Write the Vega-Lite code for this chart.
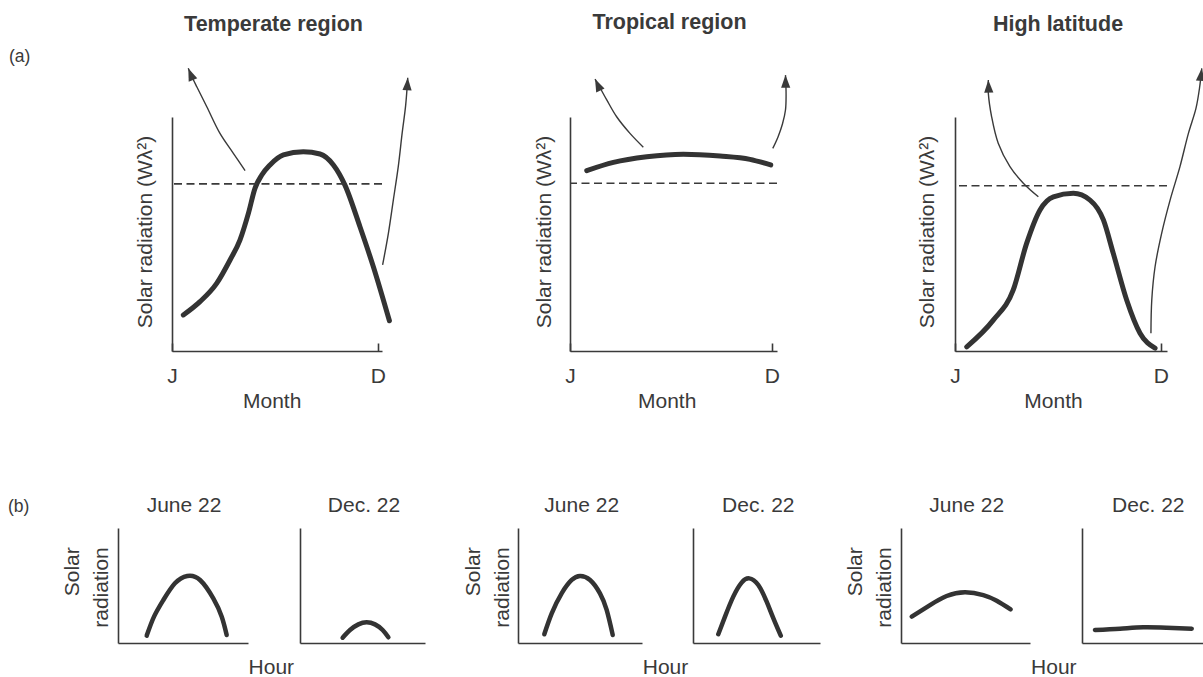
{
  "$schema": "https://vega.github.io/schema/vega-lite/v6.json",
  "autosize": "none",
  "padding": {"left": 0, "top": 117, "right": 1203, "bottom": 560},
  "background": "white",
  "bounds": "flush",
  "spacing": 411,
  "config": {
    "view": {"stroke": null},
    "font": "Liberation Sans",
    "axis": {
      "labelFont": "Liberation Sans", "titleFont": "Liberation Sans",
      "labelFontSize": 21, "titleFontSize": 21,
      "labelColor": "#3a3a3a", "titleColor": "#3a3a3a", "titleFontWeight": "normal",
      "domainColor": "#3a3a3a", "domainWidth": 1.6,
      "grid": false, "ticks": false, "labels": false
    },
    "title": {"font": "Liberation Sans", "fontSize": 21, "fontWeight": "normal", "color": "#3a3a3a", "frame": "group", "anchor": "middle", "baseline": "middle", "offset": 12}
  },
  "datasets": {
    "curves": [
      {"panel": "Temperate", "x": 0.055, "y": 15.4}, {"panel": "Temperate", "x": 0.136, "y": 21.1}, {"panel": "Temperate", "x": 0.217, "y": 28.9},
      {"panel": "Temperate", "x": 0.282, "y": 38.9}, {"panel": "Temperate", "x": 0.33, "y": 47.4}, {"panel": "Temperate", "x": 0.371, "y": 58.8},
      {"panel": "Temperate", "x": 0.403, "y": 69.5}, {"panel": "Temperate", "x": 0.436, "y": 75.2}, {"panel": "Temperate", "x": 0.476, "y": 79.5},
      {"panel": "Temperate", "x": 0.541, "y": 83.8}, {"panel": "Temperate", "x": 0.638, "y": 85.2},
      {"panel": "Temperate", "x": 0.719, "y": 84.2}, {"panel": "Temperate", "x": 0.784, "y": 79.5}, {"panel": "Temperate", "x": 0.84, "y": 70.9},
      {"panel": "Temperate", "x": 0.913, "y": 53.1}, {"panel": "Temperate", "x": 0.978, "y": 36.0}, {"panel": "Temperate", "x": 1.056, "y": 12.9},
      {"panel": "Tropical", "x": 0.083, "y": 77.1}, {"panel": "Tropical", "x": 0.215, "y": 80.6}, {"panel": "Tropical", "x": 0.38, "y": 83.0},
      {"panel": "Tropical", "x": 0.561, "y": 84.1}, {"panel": "Tropical", "x": 0.743, "y": 83.3}, {"panel": "Tropical", "x": 0.891, "y": 81.9},
      {"panel": "Tropical", "x": 0.994, "y": 79.5},
      {"panel": "High", "x": 0.057, "y": 1.8}, {"panel": "High", "x": 0.186, "y": 13.2}, {"panel": "High", "x": 0.283, "y": 26.1},
      {"panel": "High", "x": 0.348, "y": 46.0}, {"panel": "High", "x": 0.413, "y": 60.3}, {"panel": "High", "x": 0.478, "y": 65.9},
      {"panel": "High", "x": 0.575, "y": 67.4}, {"panel": "High", "x": 0.656, "y": 64.5}, {"panel": "High", "x": 0.721, "y": 56.0},
      {"panel": "High", "x": 0.769, "y": 41.7}, {"panel": "High", "x": 0.834, "y": 21.8}, {"panel": "High", "x": 0.899, "y": 7.6},
      {"panel": "High", "x": 0.972, "y": 1.2},
      {"panel": "b1", "x": 0.221, "y": 6.4}, {"panel": "b1", "x": 0.277, "y": 22.9}, {"panel": "b1", "x": 0.349, "y": 37.4},
      {"panel": "b1", "x": 0.438, "y": 51.9}, {"panel": "b1", "x": 0.533, "y": 58.3}, {"panel": "b1", "x": 0.631, "y": 54.8},
      {"panel": "b1", "x": 0.733, "y": 38.8}, {"panel": "b1", "x": 0.798, "y": 22.9}, {"panel": "b1", "x": 0.836, "y": 7.0},
      {"panel": "b2", "x": 0.341, "y": 4.6}, {"panel": "b2", "x": 0.4, "y": 11.3}, {"panel": "b2", "x": 0.467, "y": 16.2},
      {"panel": "b2", "x": 0.533, "y": 18.0}, {"panel": "b2", "x": 0.6, "y": 16.2}, {"panel": "b2", "x": 0.661, "y": 11.3},
      {"panel": "b2", "x": 0.707, "y": 5.0},
      {"panel": "b3", "x": 0.212, "y": 7.6}, {"panel": "b3", "x": 0.272, "y": 25.8}, {"panel": "b3", "x": 0.352, "y": 43.2},
      {"panel": "b3", "x": 0.433, "y": 54.8}, {"panel": "b3", "x": 0.5, "y": 58.3}, {"panel": "b3", "x": 0.581, "y": 54.8},
      {"panel": "b3", "x": 0.661, "y": 43.2}, {"panel": "b3", "x": 0.715, "y": 28.7}, {"panel": "b3", "x": 0.764, "y": 7.0},
      {"panel": "b4", "x": 0.199, "y": 7.6}, {"panel": "b4", "x": 0.252, "y": 22.9}, {"panel": "b4", "x": 0.317, "y": 40.3},
      {"panel": "b4", "x": 0.383, "y": 52.5}, {"panel": "b4", "x": 0.443, "y": 56.2}, {"panel": "b4", "x": 0.514, "y": 50.4},
      {"panel": "b4", "x": 0.58, "y": 35.9}, {"panel": "b4", "x": 0.633, "y": 21.4}, {"panel": "b4", "x": 0.691, "y": 6.4},
      {"panel": "b5", "x": 0.083, "y": 22.9}, {"panel": "b5", "x": 0.225, "y": 33.0}, {"panel": "b5", "x": 0.354, "y": 40.9},
      {"panel": "b5", "x": 0.496, "y": 44.1}, {"panel": "b5", "x": 0.638, "y": 41.7}, {"panel": "b5", "x": 0.742, "y": 36.8},
      {"panel": "b5", "x": 0.85, "y": 29.3},
      {"panel": "b6", "x": 0.107, "y": 11.3}, {"panel": "b6", "x": 0.314, "y": 12.4}, {"panel": "b6", "x": 0.507, "y": 13.7},
      {"panel": "b6", "x": 0.7, "y": 13.3}, {"panel": "b6", "x": 0.907, "y": 12.4}
    ],
    "levels": [
      {"panel": "Temperate", "y": 71.4}, {"panel": "Tropical", "y": 71.7}, {"panel": "High", "y": 70.6}
    ],
    "arrows": [
      {"panel": "Temperate", "arrow": "left", "i": 0, "x": 0.355, "y": 77.1}, {"panel": "Temperate", "arrow": "left", "i": 1, "x": 0.298, "y": 84.5},
      {"panel": "Temperate", "arrow": "left", "i": 2, "x": 0.233, "y": 93.0}, {"panel": "Temperate", "arrow": "left", "i": 3, "x": 0.169, "y": 104.4},
      {"panel": "Temperate", "arrow": "left", "i": 4, "x": 0.121, "y": 112.8}, {"panel": "Temperate", "arrow": "left", "i": 5, "x": 0.095, "y": 117.5},
      {"panel": "Temperate", "arrow": "left", "i": 6, "x": 0.079, "y": 120.8},
      {"panel": "Temperate", "arrow": "right", "i": 0, "x": 1.023, "y": 36.8}, {"panel": "Temperate", "arrow": "right", "i": 1, "x": 1.051, "y": 50.3},
      {"panel": "Temperate", "arrow": "right", "i": 2, "x": 1.075, "y": 64.5}, {"panel": "Temperate", "arrow": "right", "i": 3, "x": 1.099, "y": 78.8},
      {"panel": "Temperate", "arrow": "right", "i": 4, "x": 1.118, "y": 93.2}, {"panel": "Temperate", "arrow": "right", "i": 5, "x": 1.135, "y": 105.1},
      {"panel": "Temperate", "arrow": "right", "i": 6, "x": 1.145, "y": 116.8},
      {"panel": "Tropical", "arrow": "left", "i": 0, "x": 0.363, "y": 87.1}, {"panel": "Tropical", "arrow": "left", "i": 1, "x": 0.297, "y": 93.0},
      {"panel": "Tropical", "arrow": "left", "i": 2, "x": 0.231, "y": 100.1}, {"panel": "Tropical", "arrow": "left", "i": 3, "x": 0.182, "y": 107.3},
      {"panel": "Tropical", "arrow": "left", "i": 4, "x": 0.149, "y": 112.4}, {"panel": "Tropical", "arrow": "left", "i": 5, "x": 0.124, "y": 116.2},
      {"panel": "Tropical", "arrow": "right", "i": 0, "x": 1.004, "y": 86.6}, {"panel": "Tropical", "arrow": "right", "i": 1, "x": 1.03, "y": 91.5},
      {"panel": "Tropical", "arrow": "right", "i": 2, "x": 1.052, "y": 97.0}, {"panel": "Tropical", "arrow": "right", "i": 3, "x": 1.067, "y": 103.0},
      {"panel": "Tropical", "arrow": "right", "i": 4, "x": 1.07, "y": 109.4}, {"panel": "Tropical", "arrow": "right", "i": 5, "x": 1.067, "y": 117.9},
      {"panel": "High", "arrow": "left", "i": 0, "x": 0.405, "y": 65.9}, {"panel": "High", "arrow": "left", "i": 1, "x": 0.332, "y": 71.7},
      {"panel": "High", "arrow": "left", "i": 2, "x": 0.267, "y": 78.8}, {"panel": "High", "arrow": "left", "i": 3, "x": 0.21, "y": 88.8},
      {"panel": "High", "arrow": "left", "i": 4, "x": 0.178, "y": 100.1}, {"panel": "High", "arrow": "left", "i": 5, "x": 0.162, "y": 110.1},
      {"panel": "High", "arrow": "left", "i": 6, "x": 0.162, "y": 115.8},
      {"panel": "High", "arrow": "right", "i": 0, "x": 0.952, "y": 7.6}, {"panel": "High", "arrow": "right", "i": 1, "x": 0.956, "y": 21.8},
      {"panel": "High", "arrow": "right", "i": 2, "x": 0.972, "y": 36.0}, {"panel": "High", "arrow": "right", "i": 3, "x": 1.004, "y": 50.3},
      {"panel": "High", "arrow": "right", "i": 4, "x": 1.045, "y": 64.5}, {"panel": "High", "arrow": "right", "i": 5, "x": 1.093, "y": 78.8},
      {"panel": "High", "arrow": "right", "i": 6, "x": 1.134, "y": 93.0}, {"panel": "High", "arrow": "right", "i": 7, "x": 1.171, "y": 103.8},
      {"panel": "High", "arrow": "right", "i": 8, "x": 1.188, "y": 112.4}, {"panel": "High", "arrow": "right", "i": 9, "x": 1.199, "y": 120.8}
    ]
  },
  "vconcat": [
    {
      "bounds": "flush",
      "spacing": 0,
      "hconcat": [
        {"width": 172, "height": 1, "data": {"values": []}, "mark": "point",
         "title": {"text": "(a)", "anchor": "start", "fontSize": 17.5, "offset": 52, "dx": 9}},
        {
          "width": 210, "height": 234,
          "resolve": {"axis": {"x": "independent", "y": "independent"}},
          "layer": [
            {"data": {"name": "curves"}, "transform": [{"filter": "datum.panel === 'Temperate'"}],
             "mark": {"type": "line", "interpolate": "monotone", "strokeWidth": 5, "color": "#333333", "clip": false, "strokeCap": "round"},
             "encoding": {
               "x": {"field": "x", "type": "quantitative", "scale": {"domain": [0, 1.02], "nice": false, "zero": false},
                     "axis": {"orient": "bottom", "values": [0, 1], "labels": true, "labelFlush": false, "labelOverlap": false, "labelExpr": "datum.value === 0 ? 'J' : 'D'", "labelPadding": 22.3, "ticks": true, "tickSize": -8, "tickWidth": 1.6, "tickColor": "#3a3a3a", "title": "Month", "titleX": 99.7, "titleY": 50, "titleAlign": "center", "titleBaseline": "middle", "titleAngle": 0}},
               "y": {"field": "y", "type": "quantitative", "scale": {"domain": [0, 100], "nice": false, "zero": false},
                     "axis": {"orient": "left", "title": "Solar radiation (Wλ²)", "titleX": -26.4, "titleY": 114.5, "titleAngle": 270, "titleAlign": "center", "titleBaseline": "middle"}}
             }},
            {"data": {"name": "levels"}, "transform": [{"filter": "datum.panel === 'Temperate'"}],
             "mark": {"type": "rule", "strokeDash": [8, 4.5], "strokeWidth": 1.6, "color": "#3a3a3a"},
             "encoding": {"y": {"field": "y", "type": "quantitative", "scale": {"domain": [0, 100], "nice": false, "zero": false}, "axis": null}}},
            {"data": {"name": "arrows"}, "transform": [{"filter": "datum.panel === 'Temperate'"}],
             "mark": {"type": "line", "interpolate": "catmull-rom", "strokeWidth": 1.4, "color": "#3a3a3a", "clip": false},
             "encoding": {
               "x": {"field": "x", "type": "quantitative", "scale": {"domain": [0, 1.02], "nice": false, "zero": false},
                     "axis": {"orient": "top", "domain": false, "title": "Temperate region", "titleFontWeight": "bold", "titleFontSize": 21.5, "titleX": 101, "titleY": -92.8, "titleAlign": "center", "titleBaseline": "middle", "titleAngle": 0}},
               "y": {"field": "y", "type": "quantitative", "scale": {"domain": [0, 100], "nice": false, "zero": false}, "axis": null},
               "detail": {"field": "arrow"},
               "order": {"field": "i", "type": "quantitative"}
             }},
            {"data": {"name": "arrows"}, "transform": [{"joinaggregate": [{"op": "max", "field": "i", "as": "imax"}], "groupby": ["panel", "arrow"]}, {"filter": "datum.panel === 'Temperate' && datum.arrow === 'left' && datum.i === datum.imax"}],
             "mark": {"type": "point", "shape": "M0,0L0.42,1.15L-0.42,1.15Z", "filled": true, "size": 480, "angle": 338, "color": "#3a3a3a", "opacity": 1, "strokeWidth": 0, "clip": false},
             "encoding": {"x": {"field": "x", "type": "quantitative", "scale": {"domain": [0, 1.02], "nice": false, "zero": false}, "axis": null},
                          "y": {"field": "y", "type": "quantitative", "scale": {"domain": [0, 100], "nice": false, "zero": false}, "axis": null}}},
            {"data": {"name": "arrows"}, "transform": [{"joinaggregate": [{"op": "max", "field": "i", "as": "imax"}], "groupby": ["panel", "arrow"]}, {"filter": "datum.panel === 'Temperate' && datum.arrow === 'right' && datum.i === datum.imax"}],
             "mark": {"type": "point", "shape": "M0,0L0.42,1.15L-0.42,1.15Z", "filled": true, "size": 480, "angle": 3, "color": "#3a3a3a", "opacity": 1, "strokeWidth": 0, "clip": false},
             "encoding": {"x": {"field": "x", "type": "quantitative", "scale": {"domain": [0, 1.02], "nice": false, "zero": false}, "axis": null},
                          "y": {"field": "y", "type": "quantitative", "scale": {"domain": [0, 100], "nice": false, "zero": false}, "axis": null}}}
          ]
        },
        {"width": 188, "height": 1, "data": {"values": []}, "mark": "point"},
        {
          "width": 207, "height": 234,
          "resolve": {"axis": {"x": "independent", "y": "independent"}},
          "layer": [
            {"data": {"name": "curves"}, "transform": [{"filter": "datum.panel === 'Tropical'"}],
             "mark": {"type": "line", "interpolate": "monotone", "strokeWidth": 5, "color": "#333333", "clip": false, "strokeCap": "round"},
             "encoding": {
               "x": {"field": "x", "type": "quantitative", "scale": {"domain": [0, 1.025], "nice": false, "zero": false},
                     "axis": {"orient": "bottom", "values": [0, 1], "labels": true, "labelFlush": false, "labelOverlap": false, "labelExpr": "datum.value === 0 ? 'J' : 'D'", "labelPadding": 22.3, "ticks": true, "tickSize": -8, "tickWidth": 1.6, "tickColor": "#3a3a3a", "title": "Month", "titleX": 96.7, "titleY": 50, "titleAlign": "center", "titleBaseline": "middle", "titleAngle": 0}},
               "y": {"field": "y", "type": "quantitative", "scale": {"domain": [0, 100], "nice": false, "zero": false},
                     "axis": {"orient": "left", "title": "Solar radiation (Wλ²)", "titleX": -25.8, "titleY": 114.5, "titleAngle": 270, "titleAlign": "center", "titleBaseline": "middle"}}
             }},
            {"data": {"name": "levels"}, "transform": [{"filter": "datum.panel === 'Tropical'"}],
             "mark": {"type": "rule", "strokeDash": [8, 4.5], "strokeWidth": 1.6, "color": "#3a3a3a"},
             "encoding": {"y": {"field": "y", "type": "quantitative", "scale": {"domain": [0, 100], "nice": false, "zero": false}, "axis": null}}},
            {"data": {"name": "arrows"}, "transform": [{"filter": "datum.panel === 'Tropical'"}],
             "mark": {"type": "line", "interpolate": "catmull-rom", "strokeWidth": 1.4, "color": "#3a3a3a", "clip": false},
             "encoding": {
               "x": {"field": "x", "type": "quantitative", "scale": {"domain": [0, 1.025], "nice": false, "zero": false},
                     "axis": {"orient": "top", "domain": false, "title": "Tropical region", "titleFontWeight": "bold", "titleFontSize": 21.5, "titleX": 99, "titleY": -94.5, "titleAlign": "center", "titleBaseline": "middle", "titleAngle": 0}},
               "y": {"field": "y", "type": "quantitative", "scale": {"domain": [0, 100], "nice": false, "zero": false}, "axis": null},
               "detail": {"field": "arrow"},
               "order": {"field": "i", "type": "quantitative"}
             }},
            {"data": {"name": "arrows"}, "transform": [{"joinaggregate": [{"op": "max", "field": "i", "as": "imax"}], "groupby": ["panel", "arrow"]}, {"filter": "datum.panel === 'Tropical' && datum.arrow === 'left' && datum.i === datum.imax"}],
             "mark": {"type": "point", "shape": "M0,0L0.42,1.15L-0.42,1.15Z", "filled": true, "size": 480, "angle": 335, "color": "#3a3a3a", "opacity": 1, "strokeWidth": 0, "clip": false},
             "encoding": {"x": {"field": "x", "type": "quantitative", "scale": {"domain": [0, 1.025], "nice": false, "zero": false}, "axis": null},
                          "y": {"field": "y", "type": "quantitative", "scale": {"domain": [0, 100], "nice": false, "zero": false}, "axis": null}}},
            {"data": {"name": "arrows"}, "transform": [{"joinaggregate": [{"op": "max", "field": "i", "as": "imax"}], "groupby": ["panel", "arrow"]}, {"filter": "datum.panel === 'Tropical' && datum.arrow === 'right' && datum.i === datum.imax"}],
             "mark": {"type": "point", "shape": "M0,0L0.42,1.15L-0.42,1.15Z", "filled": true, "size": 480, "angle": 359, "color": "#3a3a3a", "opacity": 1, "strokeWidth": 0, "clip": false},
             "encoding": {"x": {"field": "x", "type": "quantitative", "scale": {"domain": [0, 1.025], "nice": false, "zero": false}, "axis": null},
                          "y": {"field": "y", "type": "quantitative", "scale": {"domain": [0, 100], "nice": false, "zero": false}, "axis": null}}}
          ]
        },
        {"width": 178, "height": 1, "data": {"values": []}, "mark": "point"},
        {
          "width": 212, "height": 234,
          "resolve": {"axis": {"x": "independent", "y": "independent"}},
          "layer": [
            {"data": {"name": "curves"}, "transform": [{"filter": "datum.panel === 'High'"}],
             "mark": {"type": "line", "interpolate": "monotone", "strokeWidth": 5, "color": "#333333", "clip": false, "strokeCap": "round"},
             "encoding": {
               "x": {"field": "x", "type": "quantitative", "scale": {"domain": [0, 1.03], "nice": false, "zero": false},
                     "axis": {"orient": "bottom", "values": [0, 1], "labels": true, "labelFlush": false, "labelOverlap": false, "labelExpr": "datum.value === 0 ? 'J' : 'D'", "labelPadding": 22.3, "ticks": true, "tickSize": -8, "tickWidth": 1.6, "tickColor": "#3a3a3a", "title": "Month", "titleX": 98, "titleY": 50, "titleAlign": "center", "titleBaseline": "middle", "titleAngle": 0}},
               "y": {"field": "y", "type": "quantitative", "scale": {"domain": [0, 100], "nice": false, "zero": false},
                     "axis": {"orient": "left", "title": "Solar radiation (Wλ²)", "titleX": -27.4, "titleY": 114.5, "titleAngle": 270, "titleAlign": "center", "titleBaseline": "middle"}}
             }},
            {"data": {"name": "levels"}, "transform": [{"filter": "datum.panel === 'High'"}],
             "mark": {"type": "rule", "strokeDash": [8, 4.5], "strokeWidth": 1.6, "color": "#3a3a3a"},
             "encoding": {"y": {"field": "y", "type": "quantitative", "scale": {"domain": [0, 100], "nice": false, "zero": false}, "axis": null}}},
            {"data": {"name": "arrows"}, "transform": [{"filter": "datum.panel === 'High'"}],
             "mark": {"type": "line", "interpolate": "catmull-rom", "strokeWidth": 1.4, "color": "#3a3a3a", "clip": false},
             "encoding": {
               "x": {"field": "x", "type": "quantitative", "scale": {"domain": [0, 1.03], "nice": false, "zero": false},
                     "axis": {"orient": "top", "domain": false, "title": "High latitude", "titleFontWeight": "bold", "titleFontSize": 21.5, "titleX": 102.5, "titleY": -92.5, "titleAlign": "center", "titleBaseline": "middle", "titleAngle": 0}},
               "y": {"field": "y", "type": "quantitative", "scale": {"domain": [0, 100], "nice": false, "zero": false}, "axis": null},
               "detail": {"field": "arrow"},
               "order": {"field": "i", "type": "quantitative"}
             }},
            {"data": {"name": "arrows"}, "transform": [{"joinaggregate": [{"op": "max", "field": "i", "as": "imax"}], "groupby": ["panel", "arrow"]}, {"filter": "datum.panel === 'High' && datum.arrow === 'left' && datum.i === datum.imax"}],
             "mark": {"type": "point", "shape": "M0,0L0.42,1.15L-0.42,1.15Z", "filled": true, "size": 480, "angle": 358, "color": "#3a3a3a", "opacity": 1, "strokeWidth": 0, "clip": false},
             "encoding": {"x": {"field": "x", "type": "quantitative", "scale": {"domain": [0, 1.03], "nice": false, "zero": false}, "axis": null},
                          "y": {"field": "y", "type": "quantitative", "scale": {"domain": [0, 100], "nice": false, "zero": false}, "axis": null}}},
            {"data": {"name": "arrows"}, "transform": [{"joinaggregate": [{"op": "max", "field": "i", "as": "imax"}], "groupby": ["panel", "arrow"]}, {"filter": "datum.panel === 'High' && datum.arrow === 'right' && datum.i === datum.imax"}],
             "mark": {"type": "point", "shape": "M0,0L0.42,1.15L-0.42,1.15Z", "filled": true, "size": 480, "angle": 6, "color": "#3a3a3a", "opacity": 1, "strokeWidth": 0, "clip": false},
             "encoding": {"x": {"field": "x", "type": "quantitative", "scale": {"domain": [0, 1.03], "nice": false, "zero": false}, "axis": null},
                          "y": {"field": "y", "type": "quantitative", "scale": {"domain": [0, 100], "nice": false, "zero": false}, "axis": null}}}
          ]
        }
      ]
    },
    {
      "bounds": "flush",
      "spacing": 0,
      "hconcat": [
        {"width": 118, "height": 1, "data": {"values": []}, "mark": "point",
         "title": {"text": "(b)", "anchor": "start", "fontSize": 17.5, "offset": 12.4, "dx": 8}},
        {"width": 130, "height": 115, "title": {"text": "June 22", "dx": 1},
         "data": {"name": "curves"}, "transform": [{"filter": "datum.panel === 'b1'"}],
         "mark": {"type": "line", "interpolate": "natural", "strokeWidth": 4.5, "color": "#333333", "clip": false, "strokeCap": "round"},
         "encoding": {
           "x": {"field": "x", "type": "quantitative", "scale": {"domain": [0, 1], "nice": false, "zero": false},
                 "axis": {"title": "Hour", "titleX": 152.8, "titleY": 24.5, "titleAlign": "center", "titleBaseline": "middle", "titleAngle": 0}},
           "y": {"field": "y", "type": "quantitative", "scale": {"domain": [0, 100], "nice": false, "zero": false},
                 "axis": {"title": ["Solar", "radiation"], "titleX": -57, "titleY": 18.7, "titleAngle": 270, "titleAlign": "right", "titleBaseline": "top", "titleLineHeight": 29}}
         }},
        {"width": 52, "height": 1, "data": {"values": []}, "mark": "point"},
        {"width": 125, "height": 115, "title": {"text": "Dec. 22", "dx": 1.5},
         "data": {"name": "curves"}, "transform": [{"filter": "datum.panel === 'b2'"}],
         "mark": {"type": "line", "interpolate": "natural", "strokeWidth": 4.5, "color": "#333333", "clip": false, "strokeCap": "round"},
         "encoding": {
           "x": {"field": "x", "type": "quantitative", "scale": {"domain": [0, 1], "nice": false, "zero": false}, "axis": {"title": null}},
           "y": {"field": "y", "type": "quantitative", "scale": {"domain": [0, 100], "nice": false, "zero": false}, "axis": {"title": null}}
         }},
        {"width": 93, "height": 1, "data": {"values": []}, "mark": "point"},
        {"width": 124, "height": 115, "title": {"text": "June 22", "dx": 1.7},
         "data": {"name": "curves"}, "transform": [{"filter": "datum.panel === 'b3'"}],
         "mark": {"type": "line", "interpolate": "natural", "strokeWidth": 4.5, "color": "#333333", "clip": false, "strokeCap": "round"},
         "encoding": {
           "x": {"field": "x", "type": "quantitative", "scale": {"domain": [0, 1], "nice": false, "zero": false},
                 "axis": {"title": "Hour", "titleX": 147, "titleY": 24.5, "titleAlign": "center", "titleBaseline": "middle", "titleAngle": 0}},
           "y": {"field": "y", "type": "quantitative", "scale": {"domain": [0, 100], "nice": false, "zero": false},
                 "axis": {"title": ["Solar", "radiation"], "titleX": -55.3, "titleY": 18.7, "titleAngle": 270, "titleAlign": "right", "titleBaseline": "top", "titleLineHeight": 29}}
         }},
        {"width": 51, "height": 1, "data": {"values": []}, "mark": "point"},
        {"width": 127, "height": 115, "title": {"text": "Dec. 22", "dx": 1.8},
         "data": {"name": "curves"}, "transform": [{"filter": "datum.panel === 'b4'"}],
         "mark": {"type": "line", "interpolate": "natural", "strokeWidth": 4.5, "color": "#333333", "clip": false, "strokeCap": "round"},
         "encoding": {
           "x": {"field": "x", "type": "quantitative", "scale": {"domain": [0, 1], "nice": false, "zero": false}, "axis": {"title": null}},
           "y": {"field": "y", "type": "quantitative", "scale": {"domain": [0, 100], "nice": false, "zero": false}, "axis": {"title": null}}
         }},
        {"width": 81, "height": 1, "data": {"values": []}, "mark": "point"},
        {"width": 129, "height": 115, "title": {"text": "June 22", "dx": 1.2},
         "data": {"name": "curves"}, "transform": [{"filter": "datum.panel === 'b5'"}],
         "mark": {"type": "line", "interpolate": "natural", "strokeWidth": 4.5, "color": "#333333", "clip": false, "strokeCap": "round"},
         "encoding": {
           "x": {"field": "x", "type": "quantitative", "scale": {"domain": [0, 1], "nice": false, "zero": false},
                 "axis": {"title": "Hour", "titleX": 152.3, "titleY": 24.5, "titleAlign": "center", "titleBaseline": "middle", "titleAngle": 0}},
           "y": {"field": "y", "type": "quantitative", "scale": {"domain": [0, 100], "nice": false, "zero": false},
                 "axis": {"title": ["Solar", "radiation"], "titleX": -56.6, "titleY": 18.7, "titleAngle": 270, "titleAlign": "right", "titleBaseline": "top", "titleLineHeight": 29}}
         }},
        {"width": 52, "height": 1, "data": {"values": []}, "mark": "point"},
        {"width": 121, "height": 115, "title": {"text": "Dec. 22", "dx": 5.8},
         "data": {"name": "curves"}, "transform": [{"filter": "datum.panel === 'b6'"}],
         "mark": {"type": "line", "interpolate": "natural", "strokeWidth": 4.5, "color": "#333333", "clip": false, "strokeCap": "round"},
         "encoding": {
           "x": {"field": "x", "type": "quantitative", "scale": {"domain": [0, 1], "nice": false, "zero": false}, "axis": {"title": null}},
           "y": {"field": "y", "type": "quantitative", "scale": {"domain": [0, 100], "nice": false, "zero": false}, "axis": {"title": null}}
         }}
      ]
    }
  ]
}
